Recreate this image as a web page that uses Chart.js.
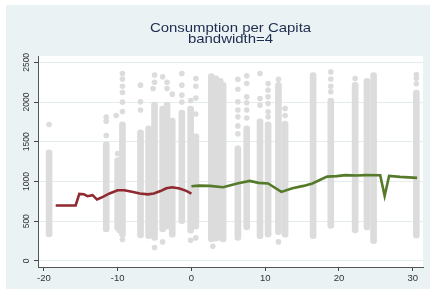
<!DOCTYPE html>
<html>
<head>
<meta charset="utf-8">
<script src="https://cdn.jsdelivr.net/npm/chart.js@4"></script>
<style>
  html, body { margin: 0; padding: 0; background: #fff; }
  #grafico { display: block; }
</style>
</head>
<body>
<canvas id="grafico" width="430" height="297"></canvas>
<script>
const titulo = ['Consumption per Capita', 'bandwidth=4'];
const ticksX = [-20, -10, 0, 10, 20, 30];
const ticksY = [0, 500, 1000, 1500, 2000, 2500];

// colunas de pontos cinzas (parte densa de cada coluna)
const colX  = [-19.3, -11.55, -10.0, -9.7, -9.35, -6.9, -5.8, -5.0, -3.9, -3.3, -2.6, -1.3, -0.1, 0.6, 2.7, 3.3, 3.9, 4.3, 6.3, 7.5, 9.3, 10.4, 11.8, 12.7, 16.5, 18.9, 22.2, 23.8, 24.7, 30.5];
const colLo = [302, 365, 380, 350, 300, 290, 280, 260, 365, 400, 300, 470, 350, 400, 240, 250, 260, 240, 260, 390, 280, 300, 330, 300, 280, 410, 353, 390, 219, 287];
const colHi = [1400, 1500, 1300, 1300, 1750, 1650, 1700, 2000, 1950, 2000, 1800, 1900, 1950, 1600, 2360, 2330, 2300, 2250, 1450, 1700, 1790, 1750, 2250, 1760, 2370, 2050, 2250, 2300, 2370, 2150];

// pontos soltos (acima / abaixo das colunas)
const dotX = [-19.3, -11.55, -11.55, -11.55, -10.2, -10.0, -9.35, -9.35, -9.35, -9.35, -9.35, -9.35, -9.35, -6.9, -6.9, -6.9, -5.0, -5.0, -5.2, -5.0, -3.9, -3.9, -3.3, -3.3, -2.6, -1.3, -1.3, -1.3, -1.3, -0.1, -0.1, 0.6, 0.6, 0.6, 0.6, 0.6, 2.9, 6.3, 6.3, 6.3, 6.3, 6.3, 6.3, 6.3, 7.5, 7.5, 7.5, 7.5, 7.5, 7.5, 9.3, 9.3, 9.3, 10.4, 10.4, 10.4, 10.4, 10.4, 10.4, 11.8, 11.8, 12.7, 12.7, 18.9, 18.9, 18.9, 18.9, 22.2, 30.5, 30.5, 30.5];
const dotY = [1718, 1580, 1760, 1810, 1830, 1352, 2360, 2290, 2200, 2120, 2000, 1880, 270, 2213, 2003, 1900, 2340, 2250, 2171, 169, 2318, 240, 2170, 2250, 2100, 2360, 2213, 2087, 2000, 2020, 260, 2297, 2200, 2050, 1850, 290, 185, 2288, 2162, 2003, 1900, 1814, 1700, 1600, 2330, 2233, 2066, 1990, 1900, 1800, 2360, 2045, 1960, 2234, 2150, 2066, 1982, 1877, 1814, 2288, 240, 1919, 1830, 2380, 2290, 2200, 2130, 2297, 2348, 2300, 2230];

// ajuste local à esquerda do corte
const esqX = [-18.4, -15.7, -15.2, -14.6, -14.1, -13.4, -12.8, -12.0, -11.1, -10.0, -9.1, -7.9, -7.0, -5.9, -5.1, -4.2, -3.4, -2.6, -1.6, -0.7, 0];
const esqY = [698, 698, 845, 840, 815, 828, 773, 806, 850, 890, 890, 869, 850, 838, 850, 880, 915, 928, 912, 882, 848];

// ajuste local à direita do corte
const dirX = [0, 1.0, 2.5, 4.3, 6.2, 7.9, 9.1, 10.4, 12.2, 13.7, 15.2, 16.4, 18.4, 19.7, 20.9, 22.4, 23.6, 25.6, 26.2, 26.8, 28.3, 30.6];
const dirY = [941, 948, 945, 928, 975, 1008, 983, 975, 869, 915, 945, 975, 1062, 1068, 1080, 1076, 1080, 1078, 818, 1071, 1058, 1046];

const colunas = colX.map((x, i) => ({ x: x, y: [colLo[i], colHi[i]] }));
const pontos = dotX.map((x, i) => ({ x: x, y: dotY[i] }));
const linhaEsq = esqX.map((x, i) => ({ x: x, y: esqY[i] }));
const linhaDir = dirX.map((x, i) => ({ x: x, y: dirY[i] }));

const FONTE = '"Liberation Sans", Arial, sans-serif';

// fundo estilo Stata + título centrado na área do gráfico
const fundo = {
  id: 'fundo',
  beforeDraw(chart) {
    const { ctx, chartArea: a } = chart;
    ctx.save();
    ctx.fillStyle = '#ffffff';
    ctx.fillRect(0, 0, chart.width, chart.height);
    ctx.fillStyle = '#eaf2f3';
    ctx.fillRect(6, 5, chart.width - 6, chart.height - 13);
    ctx.fillStyle = '#ffffff';
    ctx.fillRect(a.left, a.top, a.right - a.left, a.bottom - a.top);

    const cx = (a.left + a.right) / 2;
    ctx.fillStyle = '#1e2d4f';
    ctx.font = '13px ' + FONTE;
    ctx.textAlign = 'center';
    ctx.textBaseline = 'alphabetic';
    ctx.translate(cx, 0);
    ctx.scale(1.15, 1);
    ctx.fillText(titulo[0], 0, 32.3);
    ctx.fillText(titulo[1], 0, 43.3);
    ctx.restore();
  }
};

new Chart(document.getElementById('grafico'), {
  type: 'bar',
  data: {
    datasets: [
      { type: 'line', data: linhaEsq, borderColor: '#8e2a30', borderWidth: 2.6, pointRadius: 0, tension: 0, order: 0 },
      { type: 'line', data: linhaDir, borderColor: '#557b2a', borderWidth: 2.6, pointRadius: 0, tension: 0, order: 0 },
      { type: 'scatter', data: pontos, backgroundColor: '#dcdcdc', borderWidth: 0, pointRadius: 2.8, order: 1 },
      { type: 'bar', data: colunas, backgroundColor: '#dcdcdc', barThickness: 6, borderRadius: 3, borderSkipped: false, order: 2 }
    ]
  },
  options: {
    responsive: false,
    animation: false,
    devicePixelRatio: 1,
    layout: { padding: { top: 56, right: 7, left: 0, bottom: 0 } },
    plugins: { legend: { display: false }, tooltip: { enabled: false }, title: { display: false } },
    scales: {
      x: {
        type: 'linear', min: -20.8, max: 31.4, offset: false,
        afterBuildTicks: s => { s.ticks = ticksX.map(v => ({ value: v })); },
        ticks: { padding: 2, color: '#333', font: { family: FONTE, size: 9.5 }, callback: v => String(v) },
        grid: { offset: false, drawOnChartArea: false, drawTicks: true, tickLength: 4, tickColor: '#444' },
        border: { display: true, color: '#555', width: 1 },
        afterFit: s => { s.height = 30; }
      },
      y: {
        type: 'linear', min: -76, max: 2580,
        afterBuildTicks: s => { s.ticks = ticksY.map(v => ({ value: v })); },
        ticks: { minRotation: 90, maxRotation: 90, crossAlign: 'center', padding: -2, color: '#333', font: { family: FONTE, size: 8.5 }, callback: v => String(v) },
        grid: { color: '#e3ecee', lineWidth: 1, drawTicks: true, tickLength: 4, tickColor: '#444' },
        border: { display: true, color: '#555', width: 1 },
        afterFit: s => { s.width = 38; }
      }
    }
  },
  plugins: [fundo]
});
</script>
</body>
</html>
